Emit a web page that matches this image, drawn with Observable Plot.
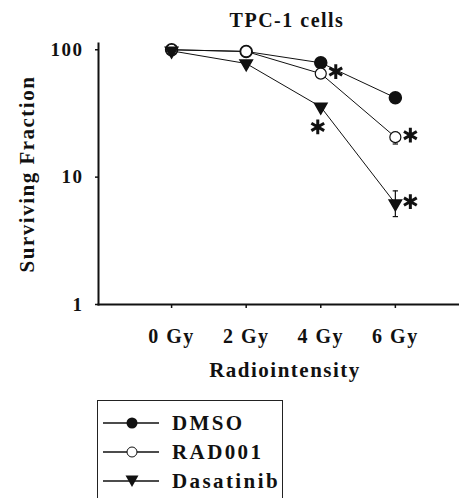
<!DOCTYPE html>
<html>
<head>
<meta charset="utf-8">
<script src="https://cdn.jsdelivr.net/npm/d3@7"></script>
<script src="https://cdn.jsdelivr.net/npm/@observablehq/plot@0.6"></script>
<style>
  html, body { margin: 0; padding: 0; background: #fff; }
  body { width: 459px; height: 498px; overflow: hidden; font-family: "Liberation Serif", "Times New Roman", serif; }
  #legend { position: absolute; left: 97px; top: 400px; width: 186px; height: 120px; border: 1px solid #222; box-sizing: border-box; }
  .row { position: absolute; left: 0; height: 28px; display: flex; align-items: center; }
  .row svg { margin-left: 5px; }
  .row span { margin-left: 13px; font-weight: bold; font-size: 21px; letter-spacing: 2.4px; color: #111; }
</style>
</head>
<body>
<div id="chart"></div>
<div id="legend"></div>
<script>
// ---- data ----
const doses = [0, 2, 4, 6];
const doseLabels = ["0 Gy", "2 Gy", "4 Gy", "6 Gy"];
const seriesNames = ["DMSO", "RAD001", "Dasatinib"];
const dmso = [100, 97, 79, 42];
const rad001 = [100, 97, 65, 20.6];
const dasatinib = [98, 78, 35.6, 6.2];
const yTicks = [1, 10, 100];
// error bars (dose, low, high)
const errDose = [6, 6];
const errSeries = ["RAD001", "Dasatinib"];
const errLow = [18.2, 4.9];
const errHigh = [22.5, 7.8];
// significance markers
const sigSeries = ["RAD001", "RAD001", "Dasatinib", "Dasatinib"];
const sigDose = [4, 6, 4, 6];
const title = "TPC-1 cells";
const xLabel = "Radiointensity";
const yLabel = "Surviving Fraction";

const valuesBy = {DMSO: dmso, RAD001: rad001, Dasatinib: dasatinib};
const rows = seriesNames.flatMap(s => doses.map((d, i) => ({series: s, dose: d, value: valuesBy[s][i]})));
const errs = errDose.map((d, i) => ({series: errSeries[i], dose: d, low: errLow[i], high: errHigh[i]}));
const sigs = sigSeries.map((s, i) => ({series: s, dose: sigDose[i], value: valuesBy[s][doses.indexOf(sigDose[i])]}));
const sigRight = sigs.filter(d => !(d.series === "Dasatinib" && d.dose === 4));
const sigBelow = sigs.filter(d => d.series === "Dasatinib" && d.dose === 4);

const capSymbol = {draw(ctx, size) { const w = Math.sqrt(size) / 2; ctx.moveTo(-w, 0); ctx.lineTo(w, 0); }};

const ff = "Liberation Serif, Times New Roman, serif";

const chart = Plot.plot({
  width: 459,
  height: 392,
  marginTop: 43,
  marginLeft: 98,
  marginRight: 0,
  marginBottom: 88,
  style: {fontFamily: ff, background: "#fff", color: "#111"},
  x: {type: "linear", domain: [-1.96, 7.72]},
  y: {type: "log", domain: [1, 112]},
  marks: [
    Plot.axisY({ticks: yTicks, tickFormat: () => "", tickSize: 3, strokeWidth: 1.5, label: null}),
    Plot.text(yTicks, {y: d => d, frameAnchor: "left", textAnchor: "end", dx: -15, fontSize: 19, fontWeight: "bold", lineAnchor: "middle"}),
    Plot.axisX({ticks: doses, tickFormat: (d) => doseLabels[doses.indexOf(d)], tickSize: 4, tickPadding: 20, fontSize: 20, fontWeight: "bold", strokeWidth: 1.5, label: null}),
    Plot.frame({anchor: "left", strokeWidth: 2}),
    Plot.frame({anchor: "bottom", strokeWidth: 2}),
    Plot.text([title], {frameAnchor: "top", dy: -23, dx: 8, fontSize: 20, fontWeight: "bold", lineAnchor: "middle"}),
    Plot.text([xLabel], {frameAnchor: "bottom", dy: 66, dx: 6, fontSize: 21, fontWeight: "bold", lineAnchor: "middle"}),
    Plot.text([yLabel], {frameAnchor: "left", textAnchor: "middle", dx: -71, rotate: -90, fontSize: 21, fontWeight: "bold", lineAnchor: "middle"}),
    Plot.line(rows, {x: "dose", y: "value", z: "series", stroke: "#111", strokeWidth: 1}),
    Plot.ruleX(errs, {x: "dose", y1: "low", y2: "high", stroke: "#111", strokeWidth: 1.2}),
    Plot.dot(errs, {x: "dose", y: "low", symbol: capSymbol, r: 3, stroke: "#111", strokeWidth: 1.2}),
    Plot.dot(errs, {x: "dose", y: "high", symbol: capSymbol, r: 3, stroke: "#111", strokeWidth: 1.2}),
    Plot.dot(rows.filter(d => d.series === "DMSO"), {x: "dose", y: "value", r: 6, fill: "#111", stroke: "#111"}),
    Plot.dot(rows.filter(d => d.series === "RAD001"), {x: "dose", y: "value", r: 5.5, fill: "#fff", stroke: "#111", strokeWidth: 1.2}),
    Plot.dot(rows.filter(d => d.series === "Dasatinib"), {x: "dose", y: "value", symbol: "triangle", r: 4.6, rotate: 180, fill: "#111", stroke: "#111"}),
    Plot.dot(sigRight, {x: "dose", y: "value", symbol: "asterisk", r: 7, dx: 15, dy: -2, stroke: "#111", strokeWidth: 3}),
    Plot.dot(sigBelow, {x: "dose", y: "value", symbol: "asterisk", r: 7, dx: -3, dy: 20, stroke: "#111", strokeWidth: 3})
  ]
});
chart.querySelectorAll("text").forEach(t => t.style.letterSpacing = "1.5px");
document.getElementById("chart").append(chart);

// legend
const legend = d3.select("#legend");
seriesNames.forEach((name, i) => {
  const row = legend.append("div").attr("class", "row").style("top", (8 + i * 29) + "px");
  const svg = row.append("svg").attr("width", 56).attr("height", 20);
  svg.append("line").attr("x1", 0).attr("x2", 56).attr("y1", 10).attr("y2", 10).attr("stroke", "#111").attr("stroke-width", 1.3);
  if (name === "DMSO") svg.append("circle").attr("cx", 29).attr("cy", 10).attr("r", 5.5).attr("fill", "#111");
  else if (name === "RAD001") svg.append("circle").attr("cx", 29).attr("cy", 10).attr("r", 5).attr("fill", "#fff").attr("stroke", "#111");
  else svg.append("path").attr("d", "M22.5,4.5 L35.5,4.5 L29,16 Z").attr("fill", "#111");
  row.append("span").text(name);
});
</script>
</body>
</html>
